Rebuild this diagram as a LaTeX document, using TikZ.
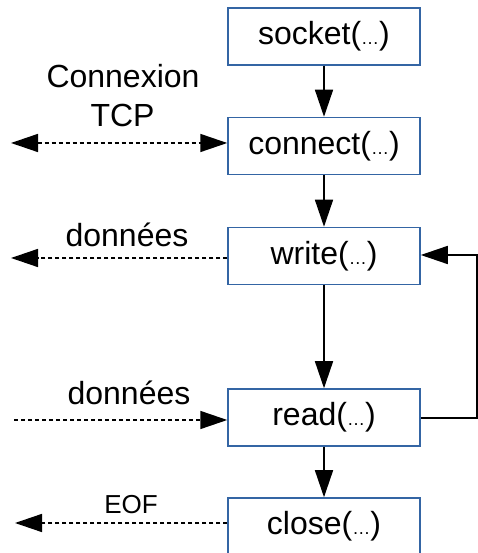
\documentclass[tikz,border=0pt]{standalone}
\usepackage{fontspec}
\setmainfont{Liberation Sans}
\usetikzlibrary{arrows.meta}
\definecolor{boxblue}{RGB}{52,101,164}
\newcommand{\dotsmall}{{\fontsize{18}{18}\selectfont …}}
\begin{document}
\begin{tikzpicture}[x=1pt,y=1pt,
  fbox/.style={draw=boxblue,line width=1.5pt,minimum width=192pt,minimum height=57pt,inner sep=0pt,font=\fontsize{32}{38}\selectfont},
  flow/.style={line width=1.5pt,-{Triangle[length=27pt,width=18pt]}},
  msg/.style={line width=1.5pt,dash pattern=on 4pt off 3pt},
  lbl/.style={font=\fontsize{32}{38}\selectfont,anchor=base,inner sep=0pt},
  small/.style={font=\fontsize{26}{30}\selectfont,anchor=base,inner sep=0pt}]
\path[use as bounding box] (0,0) rectangle (478,553);
\clip (0,0) rectangle (478,553);
\fill[white] (0,0) rectangle (478,553);
\node[fbox] (socket) at (324,516.5) {socket(\dotsmall)};
\node[fbox] (connect) at (324,407) {connect(\dotsmall)};
\node[fbox] (write) at (324,297) {write(\dotsmall)};
\node[fbox] (read) at (324,135.5) {read(\dotsmall)};
\node[fbox] (close) at (324,26.5) {close(\dotsmall)};
\draw[flow] (socket) -- (connect);
\draw[flow] (connect) -- (write);
\draw[flow] (write) -- (read);
\draw[flow] (read) -- (close);
\coordinate (lc) at (477,135);
\coordinate (lw) at (477,298);
\draw[flow] (read.east |- lc) -- (lc) -- (lw) -- (write.east |- lw);
\coordinate (c1) at (11,410);
\draw[msg,{Triangle[length=27pt,width=18pt]}-{Triangle[length=27pt,width=18pt]}] (c1) -- (connect.west |- c1);
\coordinate (w1) at (11,295);
\draw[msg,-{Triangle[length=27pt,width=18pt]}] (write.west |- w1) -- (w1);
\coordinate (r1) at (14,133);
\draw[msg,-{Triangle[length=27pt,width=18pt]}] (r1) -- (read.west |- r1);
\coordinate (e1) at (15,30);
\draw[msg,-{Triangle[length=27pt,width=18pt]}] (close.west |- e1) -- (e1);
\node[lbl] (t1) at (123,465) {Connexion};
\node[lbl] (t2) at (122.5,426) {TCP};
\node[lbl] (d1) at (127,306) {données};
\node[lbl] (d2) at (129,148) {données};
\node[small] (eof) at (131,39) {EOF};
\end{tikzpicture}
\end{document}
